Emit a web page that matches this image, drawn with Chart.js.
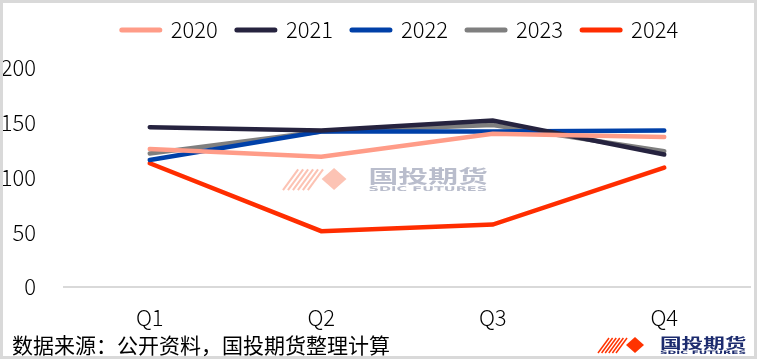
<!DOCTYPE html>
<html>
<head>
<meta charset="utf-8">
<script src="https://cdn.jsdelivr.net/npm/chart.js@4/dist/chart.umd.min.js"></script>
<style>
  html, body { margin: 0; padding: 0; background: #fff; }
</style>
</head>
<body>
<canvas id="myChart" width="757" height="359"></canvas>
<script>
const quarters = ['Q1', 'Q2', 'Q3', 'Q4']
const years = ['2020', '2021', '2022', '2023', '2024']
const v2020 = [126, 119, 140, 137]
const v2021 = [146, 143, 152, 121]
const v2022 = [116, 142, 142, 143]
const v2023 = [122, 142, 148, 124]
const v2024 = [113, 51, 57, 109]
const yTicks = [0, 50, 100, 150, 200]
const colors = ['#FF9C88', '#26233F', '#0040A8', '#7F7F7F', '#FF2D00']

const tickFont = "'Noto Sans CJK SC', 'Noto Sans'"

function drawLogo(c, x0, y0, s, light){
    c.save()
    c.translate(x0, y0)
    c.scale(s, s)
    const red = light ? '#fcc3b4' : '#ff3300'
    c.strokeStyle = red
    c.fillStyle = red
    c.lineWidth = 1.5
    for (let i = 0; i < 6; i++){
        c.beginPath()
        c.moveTo(i * 3.6, 16)
        c.lineTo(i * 3.6 + 11, 1)
        c.stroke()
    }
    c.beginPath()
    c.moveTo(28, 8)
    c.lineTo(37, 0)
    c.lineTo(46, 8)
    c.lineTo(37, 16)
    c.closePath()
    c.fill()
    c.fillStyle = light ? '#b9bdcc' : '#1c2b6e'
    c.textBaseline = 'top'
    c.save()
    c.translate(62, -1)
    c.scale(1.35, 0.82)
    c.font = "bold 16px 'Noto Sans CJK SC'"
    c.fillText('国投期货', 0, 0)
    c.restore()
    c.save()
    c.font = "bold 6px 'DejaVu Sans'"
    const w = c.measureText('SDIC FUTURES').width
    c.translate(62, 13)
    c.scale(86 / w, 0.8)
    c.fillText('SDIC FUTURES', 0, 0)
    c.restore()
    c.restore()
}

// background, frame, source note and logos
const decor = {
    id: 'decor',
    beforeInit(chart){
        const fit = chart.legend.fit
        chart.legend.fit = function(){
            fit.bind(chart.legend)()
            this.height += 17
        }
    },
    afterLayout(chart){
        // legend sits a bit right of centre in the original
        chart.legend.left += 25
        chart.legend.right += 25
    },
    beforeDraw(chart){
        const c = chart.ctx
        c.save()
        c.fillStyle = '#fff'
        c.fillRect(0, 0, chart.width, chart.height)
        c.restore()
    },
    beforeDatasetsDraw(chart){
        drawLogo(chart.ctx, 283, 168, 1.38, true)
    },
    afterDraw(chart){
        const c = chart.ctx
        c.save()
        c.strokeStyle = '#d9d9d9'
        c.lineWidth = 3
        c.strokeRect(1.5, 1.5, chart.width - 3, chart.height - 3)
        c.fillStyle = '#000'
        c.font = "21px 'Noto Sans CJK SC'"
        c.textBaseline = 'middle'
        c.fillText('数据来源：公开资料，国投期货整理计算', 12, 345)
        c.restore()
        drawLogo(c, 598, 337, 1, false)
    }
}

const series = [v2020, v2021, v2022, v2023, v2024]
const datasets = years.map((y, i) => ({
    label: y,
    data: series[i],
    borderColor: colors[i],
    backgroundColor: colors[i],
    borderWidth: 4.5,
    pointRadius: 0,
    tension: 0,
    borderCapStyle: 'round'
}))

new Chart(document.getElementById('myChart').getContext('2d'), {
    type: 'line',
    data: { labels: quarters, datasets: datasets },
    plugins: [decor],
    options: {
        responsive: false,
        animation: false,
        layout: { padding: { left: 0, right: 7, top: 0, bottom: 28 } },
        plugins: {
            legend: {
                position: 'top',
                labels: {
                    boxWidth: 38,
                    boxHeight: 0,
                    padding: 19,
                    color: '#000',
                    font: { family: tickFont, size: 22, weight: 300 },
                    generateLabels(chart){
                        return chart.data.datasets.map((d, i) => ({
                            text: d.label,
                            strokeStyle: d.borderColor,
                            fillStyle: d.borderColor,
                            lineWidth: 5,
                            lineCap: 'round',
                            lineJoin: 'round',
                            datasetIndex: i
                        }))
                    }
                }
            },
            tooltip: { enabled: false }
        },
        scales: {
            x: {
                offset: true,
                afterFit(axis){ axis.height = 44 },
                grid: { display: false, drawTicks: false },
                border: { color: '#d9d9d9', width: 2 },
                ticks: { color: '#000', padding: 17, font: { family: tickFont, size: 22, weight: 300 } }
            },
            y: {
                min: 0,
                max: 200,
                afterFit(axis){ axis.width = 64 },
                afterBuildTicks(axis){ axis.ticks = yTicks.map(v => ({ value: v })) },
                grid: { display: false, drawTicks: false },
                border: { display: false },
                ticks: { color: '#000', padding: 28, font: { family: tickFont, size: 22, weight: 300 } }
            }
        }
    }
})
</script>
</body>
</html>
